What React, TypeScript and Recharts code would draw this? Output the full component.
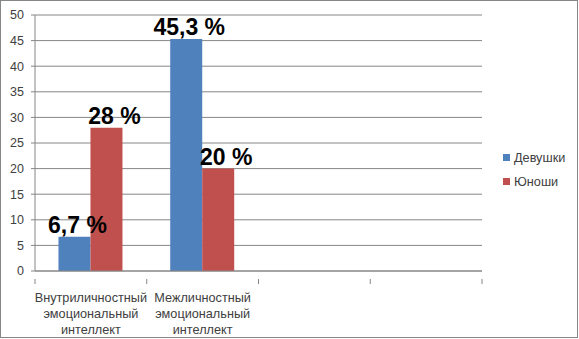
import { Bar, BarChart, CartesianGrid, LabelList, Legend, XAxis, YAxis } from "recharts";

const categories = [
  "Внутриличностный эмоциональный интеллект",
  "Межличностный эмоциональный интеллект",
  "",
  "",
];
const girls: (number | null)[] = [6.7, 45.3, null, null];
const boys: (number | null)[] = [28, 20, null, null];
const yTicks = [0, 5, 10, 15, 20, 25, 30, 35, 40, 45, 50];

const data = categories.map((name, i) => ({ name, girls: girls[i], boys: boys[i] }));

const W = 579;
const H = 339;
const margin = { top: 15, right: 13, left: 0, bottom: 8 };
const Y_W = 35;
const LEGEND_W = 84;
const FONT = "'Liberation Sans', Arial, sans-serif";
const AXIS = "#868686";
const TEXT = "#404040";

const band = (W - margin.left - margin.right - Y_W - LEGEND_W) / categories.length;

const CategoryTick = (props: any) => {
  const { x, y, payload, index } = props;
  const words = String(payload.value).split(" ").filter(Boolean);
  const last = index === categories.length - 1;
  return (
    <g>
      <line x1={x - band / 2} x2={x - band / 2} y1={y} y2={y + 5} stroke={AXIS} />
      {last && <line x1={x + band / 2} x2={x + band / 2} y1={y} y2={y + 5} stroke={AXIS} />}
      {words.map((w, i) => (
        <text key={i} x={x} y={y + 23 + i * 16} textAnchor="middle" fontSize={12.7} fill={TEXT} fontFamily={FONT}>
          {w}
        </text>
      ))}
    </g>
  );
};

const makeLabel = (dx: number) => (props: any) => {
  const { x, y, width, value } = props;
  if (value == null) return null;
  return (
    <text
      x={x + width / 2 + dx}
      y={y - 4}
      textAnchor="middle"
      fontSize={23}
      fontWeight="bold"
      fill="#000"
      fontFamily={FONT}
    >
      {String(value).replace(".", ",") + " %"}
    </text>
  );
};

const LegendBox = ({ payload }: any) => (
  <div style={{ paddingLeft: 21, fontFamily: FONT, fontSize: 12.7, color: TEXT, whiteSpace: "nowrap" }}>
    {(payload || []).map((p: any) => (
      <div key={p.value} style={{ display: "flex", alignItems: "center", height: 24 }}>
        <span style={{ width: 7, height: 7, flexShrink: 0, background: p.color, marginRight: 4 }} />
        {p.value}
      </div>
    ))}
  </div>
);

export default function App() {
  return (
    <div style={{ position: "absolute", left: 0, top: 0, width: W, height: H, background: "#fff" }}>
      <div
        style={{
          position: "absolute",
          left: 0,
          top: 0,
          width: W - 1,
          height: H - 1,
          border: `1px solid ${AXIS}`,
          boxSizing: "border-box",
        }}
      />
      <BarChart
        width={W}
        height={H}
        data={data}
        margin={margin}
        barCategoryGap="21%"
        barGap={0}
        style={{ position: "absolute", left: 0, top: 0 }}
      >
        <CartesianGrid vertical={false} stroke={AXIS} />
        <XAxis
          dataKey="name"
          height={60}
          stroke={AXIS}
          tickLine={false}
          interval={0}
          tick={<CategoryTick />}
        />
        <YAxis
          width={Y_W}
          domain={[0, 50]}
          ticks={yTicks}
          stroke={AXIS}
          tickSize={4}
          tickMargin={7}
          tick={{ fill: TEXT, fontSize: 12.5, fontFamily: FONT }}
          interval={0}
        />
        <Legend
          layout="vertical"
          align="right"
          verticalAlign="middle"
          width={LEGEND_W}
          content={<LegendBox />}
        />
        <Bar dataKey="girls" name="Девушки" fill="#4F81BD" isAnimationActive={false}>
          <LabelList dataKey="girls" content={makeLabel(3)} />
        </Bar>
        <Bar dataKey="boys" name="Юноши" fill="#C0504D" isAnimationActive={false}>
          <LabelList dataKey="boys" content={makeLabel(8)} />
        </Bar>
      </BarChart>
    </div>
  );
}
